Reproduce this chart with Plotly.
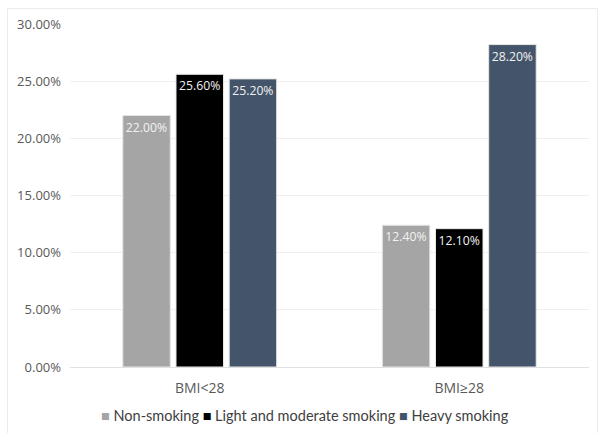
import plotly.graph_objects as go

categories = ["BMI<28", "BMI≥28"]
series_names = ["Non-smoking", "Light and moderate smoking", "Heavy smoking"]
non_smoking = [0.220, 0.124]
light_moderate = [0.256, 0.121]
heavy = [0.252, 0.282]
colors = ["#A5A5A5", "#000000", "#44546A"]

W, H = 605, 433
L, R, T, B = 70, 16, 24, 66
pw, ph = W - L - R, H - T - B

def px_x(x):
    return (x - L) / pw

def px_y(y):
    return (H - B - y) / ph

fig = go.Figure()
for name, vals, c in zip(series_names, [non_smoking, light_moderate, heavy], colors):
    fig.add_trace(go.Bar(
        x=categories, y=vals, name=name,
        marker=dict(color=c, line=dict(color="#E6E6E6", width=1)),
        text=[f"{v*100:.2f}%" for v in vals],
        textposition="inside", insidetextanchor="end",
        textfont=dict(color="#F2F2F2", size=13, family="Open Sans"),
        textangle=0,
    ))

legend_text = " ".join(
    f"<span style='color:{c}'>■</span> {n}" for n, c in zip(series_names, colors)
)

fig.update_layout(
    width=W, height=H,
    margin=dict(l=L, r=R, t=T, b=B, autoexpand=False),
    paper_bgcolor="white", plot_bgcolor="white",
    barmode="group", bargap=0.385, bargroupgap=0.107,
    font=dict(family="Open Sans", color="#595959", size=13),
    showlegend=False,
    xaxis=dict(showline=False, ticks="outside", ticklen=8, tickcolor="rgba(0,0,0,0)",
               tickfont=dict(size=14, color="#595959"), automargin=False),
    yaxis=dict(range=[0, 0.30], dtick=0.05, tickformat=".2%", gridcolor="#EFEFEF",
               gridwidth=1, zeroline=True, zerolinecolor="#E0E0E0", zerolinewidth=1,
               showline=False, ticks="", tickfont=dict(size=13, color="#595959"),
               ticklabelstandoff=8, automargin=False),
    annotations=[dict(xref="paper", yref="paper", x=px_x(305), y=px_y(415),
                      xanchor="center", yanchor="middle", showarrow=False,
                      text=legend_text, font=dict(size=14.5, color="#404040", family="Lato"))],
    shapes=[dict(type="rect", xref="paper", yref="paper",
                 x0=px_x(7.5), x1=px_x(597.5), y0=px_y(440), y1=px_y(8.5),
                 line=dict(color="#EBEBEB", width=1), fillcolor="rgba(0,0,0,0)", layer="below")],
)

fig.write_html("out.html")
